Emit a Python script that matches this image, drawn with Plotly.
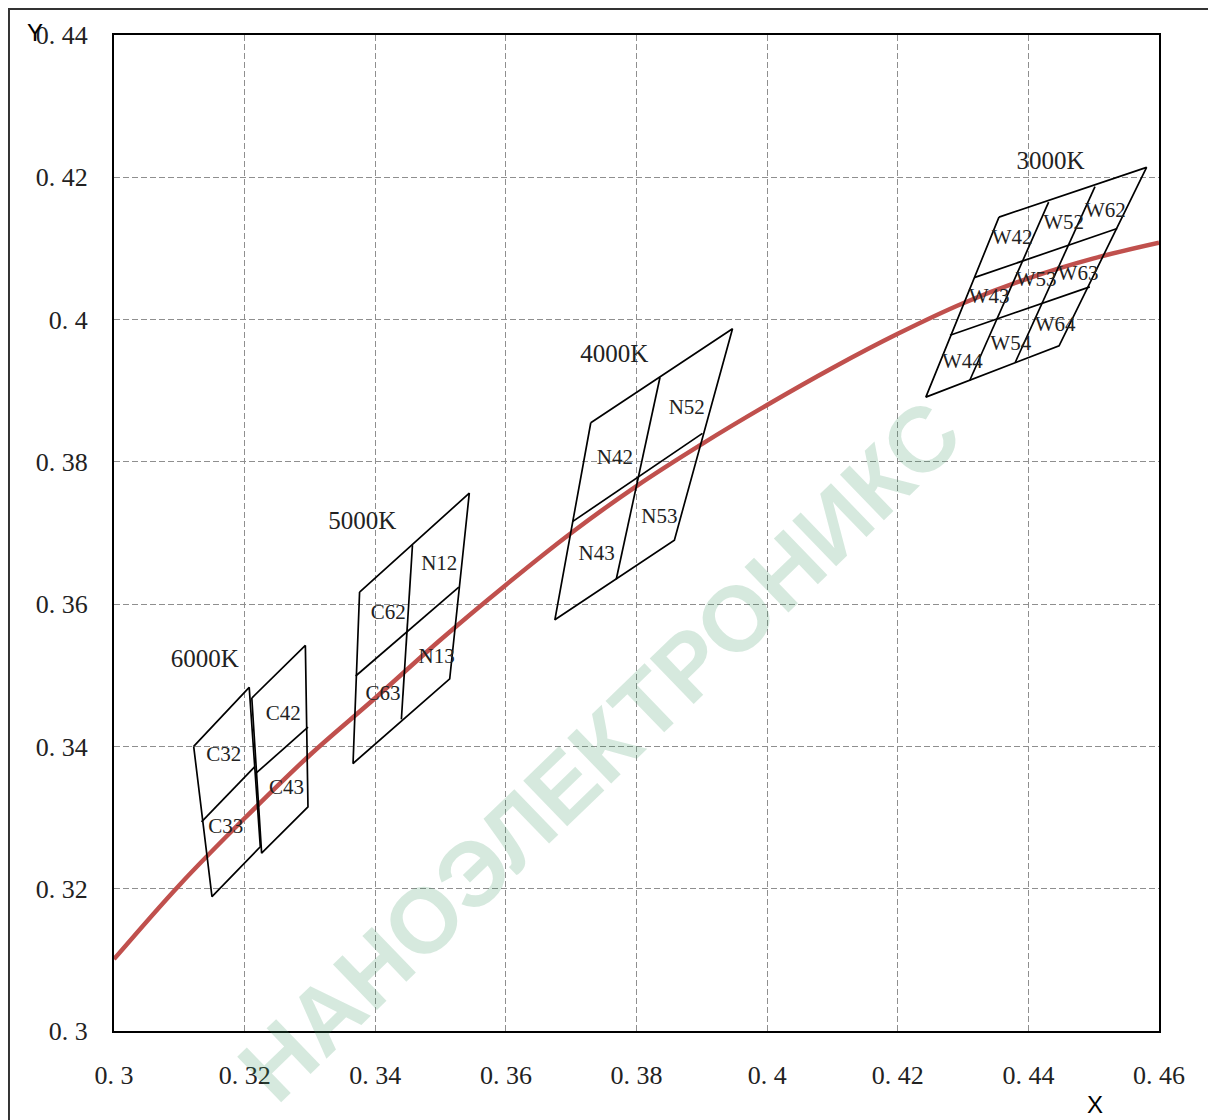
import plotly.graph_objects as go

# ---------------- data ----------------
# Planckian locus
LOCUS_X = [0.300, 0.310, 0.320, 0.330, 0.340, 0.350, 0.360, 0.370, 0.380, 0.390,
           0.400, 0.410, 0.420, 0.430, 0.440, 0.450, 0.460]
LOCUS_Y = [0.3101, 0.3205, 0.3299, 0.3388, 0.3468, 0.3550, 0.3627, 0.3700, 0.3766, 0.3825,
           0.3880, 0.3932, 0.3980, 0.4023, 0.4058, 0.4086, 0.4108]

# bin quadrangles: outline corners (TL, TR, BR, BL) and divider segments
BIN6000A_OUTLINE = [(0.3122, 0.3400), (0.3207, 0.3483), (0.3224, 0.3259), (0.3150, 0.3189)]
BIN6000A_DIVIDERS = [[(0.3134, 0.3294), (0.3216, 0.3372)]]

BIN6000B_OUTLINE = [(0.3211, 0.3468), (0.3293, 0.3542), (0.3297, 0.3315), (0.3226, 0.3250)]
BIN6000B_DIVIDERS = [[(0.3217, 0.3362), (0.3297, 0.3427)]]

BIN5000_OUTLINE = [(0.3376, 0.3617), (0.3544, 0.3756), (0.3514, 0.3495), (0.3366, 0.3376)]
BIN5000_DIVIDERS = [[(0.3457, 0.3683), (0.3440, 0.3438)],
                    [(0.3370, 0.3499), (0.3528, 0.3624)]]

BIN4000_OUTLINE = [(0.3730, 0.3855), (0.3947, 0.3987), (0.3858, 0.3690), (0.3675, 0.3578)]
BIN4000_DIVIDERS = [[(0.3836, 0.3919), (0.3769, 0.3635)],
                    [(0.3702, 0.3716), (0.3901, 0.3840)]]

BIN3000_OUTLINE = [(0.4355, 0.4144), (0.4581, 0.4214), (0.4447, 0.3963), (0.4243, 0.3891)]
BIN3000_DIVIDERS = [[(0.4431, 0.4165), (0.4310, 0.3914)],
                    [(0.4502, 0.4187), (0.4380, 0.3940)],
                    [(0.4317, 0.4059), (0.4536, 0.4128)],
                    [(0.4280, 0.3978), (0.4494, 0.4046)]]

# group labels
GROUP_TEXT = ["6000K", "5000K", "4000K", "3000K"]
GROUP_X = [0.3139, 0.3380, 0.3766, 0.4434]
GROUP_Y = [0.3521, 0.3715, 0.3949, 0.4221]

# cell labels
CELL_TEXT = ["C32", "C33", "C42", "C43",
             "N12", "C62", "N13", "C63",
             "N52", "N42", "N53", "N43",
             "W42", "W52", "W62", "W43", "W53", "W63", "W44", "W54", "W64"]
CELL_X = [0.3168, 0.3171, 0.3259, 0.3264,
          0.3498, 0.3420, 0.3494, 0.3412,
          0.3877, 0.3767, 0.3835, 0.3739,
          0.4375, 0.4454, 0.4518, 0.4340, 0.4412, 0.4476, 0.4299, 0.4373, 0.4441]
CELL_Y = [0.3387, 0.3286, 0.3445, 0.3340,
          0.3655, 0.3587, 0.3524, 0.3472,
          0.3875, 0.3804, 0.3722, 0.3670,
          0.4113, 0.4135, 0.4152, 0.4030, 0.4055, 0.4063, 0.3940, 0.3965, 0.3991]

X_TICKS = [0.30, 0.32, 0.34, 0.36, 0.38, 0.40, 0.42, 0.44, 0.46]
X_TICKTEXT = ["0. 3", "0. 32", "0. 34", "0. 36", "0. 38", "0. 4", "0. 42", "0. 44", "0. 46"]
Y_TICKS = [0.30, 0.32, 0.34, 0.36, 0.38, 0.40, 0.42, 0.44]
Y_TICKTEXT = ["0. 3", "0. 32", "0. 34", "0. 36", "0. 38", "0. 4", "0. 42", "0. 44"]

WATERMARK = "НАНОЭЛЕКТРОНИКС"

# ---------------- figure ----------------
fig = go.Figure()

fig.add_trace(go.Scatter(x=LOCUS_X, y=LOCUS_Y, mode="lines",
                         line=dict(color="#c0504d", width=4.5, shape="spline", smoothing=1.0),
                         hoverinfo="skip", showlegend=False))

def bin_path(outline, dividers):
    xs, ys = [], []
    for (x, y) in outline + [outline[0]]:
        xs.append(x); ys.append(y)
    xs.append(None); ys.append(None)
    for seg in dividers:
        for (x, y) in seg:
            xs.append(x); ys.append(y)
        xs.append(None); ys.append(None)
    return xs, ys

for outline, dividers in [(BIN6000A_OUTLINE, BIN6000A_DIVIDERS),
                          (BIN6000B_OUTLINE, BIN6000B_DIVIDERS),
                          (BIN5000_OUTLINE, BIN5000_DIVIDERS),
                          (BIN4000_OUTLINE, BIN4000_DIVIDERS),
                          (BIN3000_OUTLINE, BIN3000_DIVIDERS)]:
    xs, ys = bin_path(outline, dividers)
    fig.add_trace(go.Scatter(x=xs, y=ys, mode="lines",
                             line=dict(color="black", width=1.7),
                             hoverinfo="skip", showlegend=False))

fig.add_trace(go.Scatter(x=GROUP_X, y=GROUP_Y, mode="text", text=GROUP_TEXT,
                         textfont=dict(family="Liberation Serif", size=25, color="#222"),
                         hoverinfo="skip", showlegend=False))
fig.add_trace(go.Scatter(x=CELL_X, y=CELL_Y, mode="text", text=CELL_TEXT,
                         textfont=dict(family="Liberation Serif", size=21, color="#222"),
                         hoverinfo="skip", showlegend=False))

axis_common = dict(showgrid=True, gridcolor="#8f8f8f", gridwidth=1, griddash="6px,3px",
                   zeroline=False, showline=True, linecolor="black", linewidth=2,
                   mirror=True, ticks="",
                   tickfont=dict(family="Liberation Serif", size=26, color="#222"))

fig.update_xaxes(range=[0.3, 0.46], tickvals=X_TICKS, ticktext=X_TICKTEXT,
                 ticklabelstandoff=20, **axis_common)
fig.update_yaxes(range=[0.3, 0.44], tickvals=Y_TICKS, ticktext=Y_TICKTEXT,
                 ticklabelstandoff=19, **axis_common)

fig.update_layout(
    width=1208, height=1112,
    margin=dict(l=106, r=57, t=27, b=89),
    paper_bgcolor="white", plot_bgcolor="white",
    annotations=[
        dict(text=WATERMARK, xref="paper", yref="paper", x=0.465, y=0.282,
             xanchor="center", yanchor="middle",
             showarrow=False, textangle=-44,
             font=dict(family="Liberation Sans", size=92, color="rgba(60,150,100,0.21)",
                       weight="bold")),
        dict(text="Y", xref="paper", yref="paper", x=-0.0756, y=1.003,
             showarrow=False, xanchor="center", yanchor="middle",
             font=dict(family="Liberation Sans", size=24, color="black")),
        dict(text="X", xref="paper", yref="paper", x=0.9388, y=-0.0733,
             showarrow=False, xanchor="center", yanchor="middle",
             font=dict(family="Liberation Sans", size=24, color="black")),
    ],
    shapes=[
        dict(type="rect", xref="paper", yref="paper", x0=-0.1005, x1=1.0536,
             y0=-0.15, y1=1.0261, line=dict(color="#333", width=2)),
    ],
)

fig.write_html("out.html")
